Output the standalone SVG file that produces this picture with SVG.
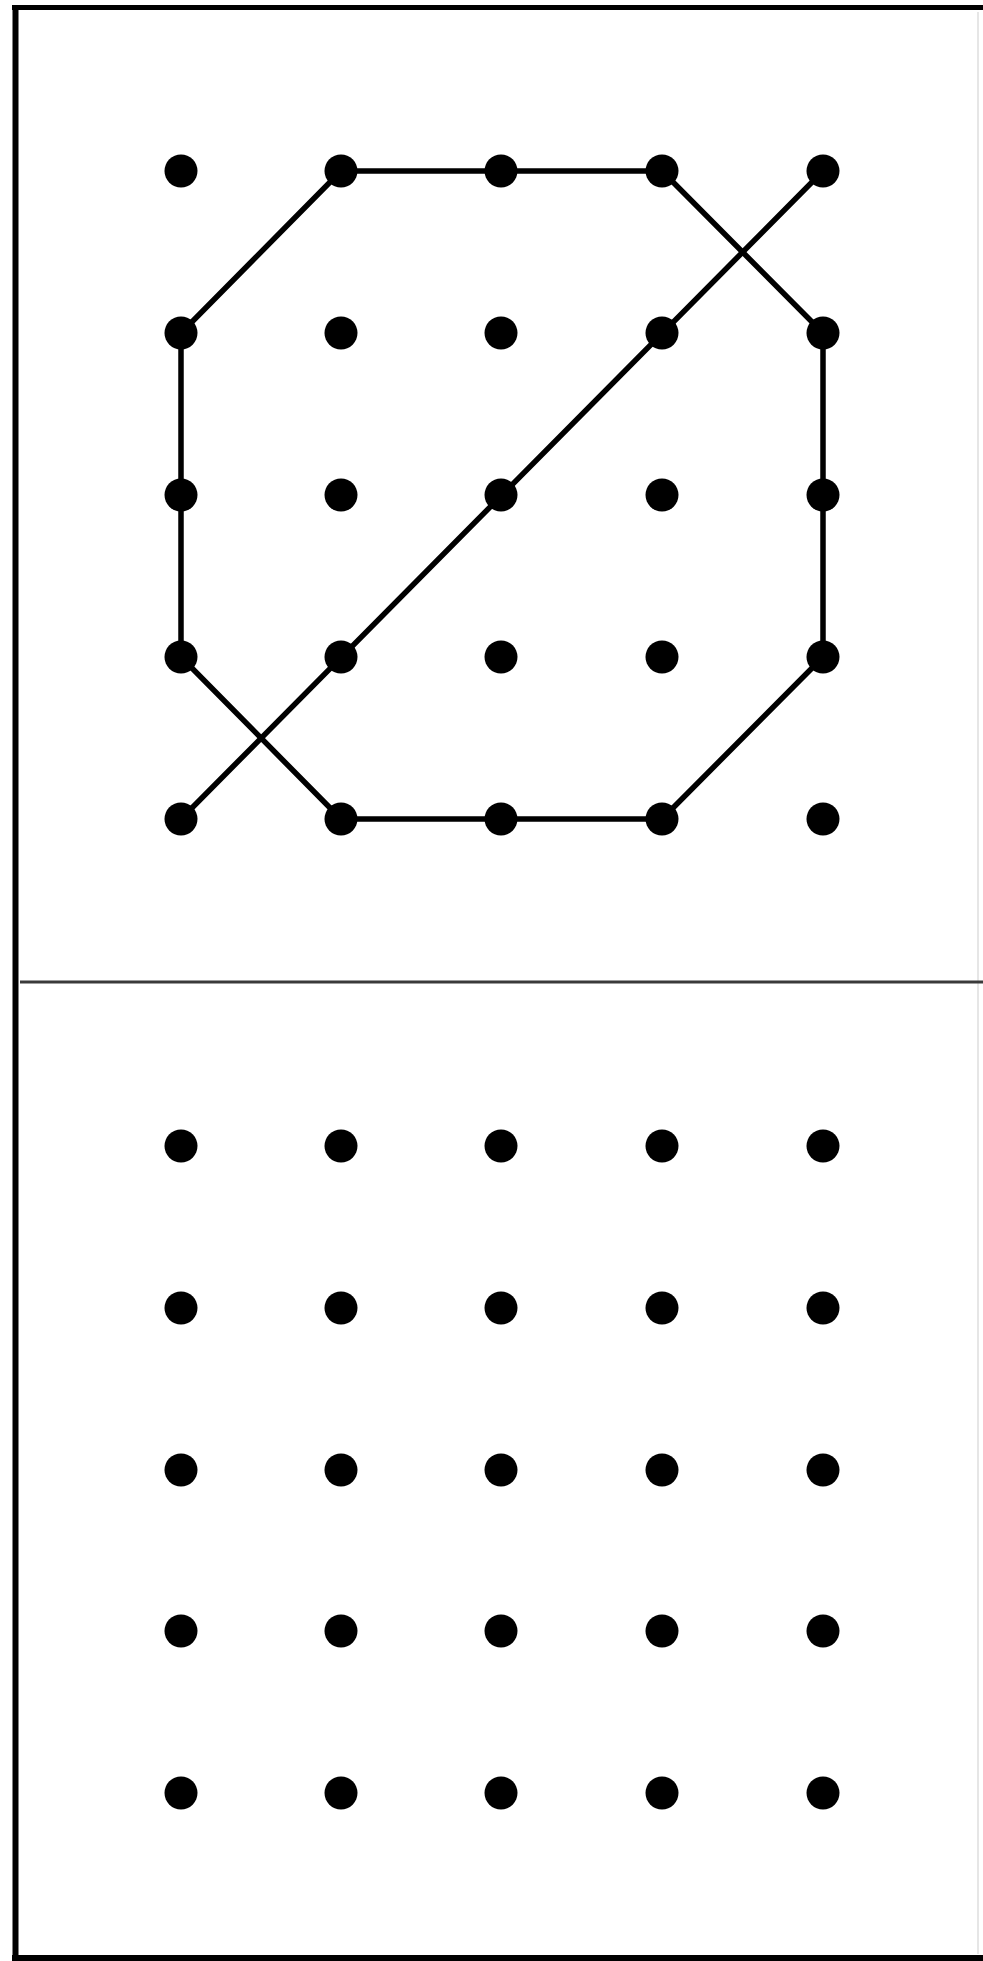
<svg xmlns="http://www.w3.org/2000/svg" width="983" height="1961" viewBox="0 0 983 1961">
<style>
.frame{stroke:#000;stroke-width:6;fill:none}
.div{stroke:#3a3a3a;stroke-width:3}
.edge{stroke:#000;stroke-width:5.5;stroke-linecap:round;stroke-linejoin:round;fill:none}
.dot{fill:#000}
</style>
<rect width="983" height="1961" fill="#fff"/>
<g id="frame">
<line class="frame" x1="15.5" y1="5" x2="15.5" y2="1961"/>
<line x1="12" y1="7.5" x2="983" y2="7.5" stroke="#000" stroke-width="5"/>
<line x1="12" y1="1958" x2="983" y2="1958" stroke="#000" stroke-width="6"/>
<line x1="978" y1="12" x2="978" y2="1954" stroke="#e6e6e6" stroke-width="2"/>
<line class="div" x1="20" y1="982" x2="983" y2="982"/>
</g>
<g id="connectors">
<polygon class="edge" points="341,171 501,171 662,171 823,333 823,495 823,657 662,819 501,819 341,819 181,657 181,495 181,333"/>
<line class="edge" x1="181" y1="819" x2="823" y2="171"/>
</g>
<g id="grid-top">
<circle class="dot" cx="181" cy="171" r="16.5"/><circle class="dot" cx="341" cy="171" r="16.5"/><circle class="dot" cx="501" cy="171" r="16.5"/><circle class="dot" cx="662" cy="171" r="16.5"/><circle class="dot" cx="823" cy="171" r="16.5"/>
<circle class="dot" cx="181" cy="333" r="16.5"/><circle class="dot" cx="341" cy="333" r="16.5"/><circle class="dot" cx="501" cy="333" r="16.5"/><circle class="dot" cx="662" cy="333" r="16.5"/><circle class="dot" cx="823" cy="333" r="16.5"/>
<circle class="dot" cx="181" cy="495" r="16.5"/><circle class="dot" cx="341" cy="495" r="16.5"/><circle class="dot" cx="501" cy="495" r="16.5"/><circle class="dot" cx="662" cy="495" r="16.5"/><circle class="dot" cx="823" cy="495" r="16.5"/>
<circle class="dot" cx="181" cy="657" r="16.5"/><circle class="dot" cx="341" cy="657" r="16.5"/><circle class="dot" cx="501" cy="657" r="16.5"/><circle class="dot" cx="662" cy="657" r="16.5"/><circle class="dot" cx="823" cy="657" r="16.5"/>
<circle class="dot" cx="181" cy="819" r="16.5"/><circle class="dot" cx="341" cy="819" r="16.5"/><circle class="dot" cx="501" cy="819" r="16.5"/><circle class="dot" cx="662" cy="819" r="16.5"/><circle class="dot" cx="823" cy="819" r="16.5"/>
</g>
<g id="grid-bottom">
<circle class="dot" cx="181" cy="1146" r="16.5"/><circle class="dot" cx="341" cy="1146" r="16.5"/><circle class="dot" cx="501" cy="1146" r="16.5"/><circle class="dot" cx="662" cy="1146" r="16.5"/><circle class="dot" cx="823" cy="1146" r="16.5"/>
<circle class="dot" cx="181" cy="1308" r="16.5"/><circle class="dot" cx="341" cy="1308" r="16.5"/><circle class="dot" cx="501" cy="1308" r="16.5"/><circle class="dot" cx="662" cy="1308" r="16.5"/><circle class="dot" cx="823" cy="1308" r="16.5"/>
<circle class="dot" cx="181" cy="1470" r="16.5"/><circle class="dot" cx="341" cy="1470" r="16.5"/><circle class="dot" cx="501" cy="1470" r="16.5"/><circle class="dot" cx="662" cy="1470" r="16.5"/><circle class="dot" cx="823" cy="1470" r="16.5"/>
<circle class="dot" cx="181" cy="1631" r="16.5"/><circle class="dot" cx="341" cy="1631" r="16.5"/><circle class="dot" cx="501" cy="1631" r="16.5"/><circle class="dot" cx="662" cy="1631" r="16.5"/><circle class="dot" cx="823" cy="1631" r="16.5"/>
<circle class="dot" cx="181" cy="1793" r="16.5"/><circle class="dot" cx="341" cy="1793" r="16.5"/><circle class="dot" cx="501" cy="1793" r="16.5"/><circle class="dot" cx="662" cy="1793" r="16.5"/><circle class="dot" cx="823" cy="1793" r="16.5"/>
</g>
</svg>
